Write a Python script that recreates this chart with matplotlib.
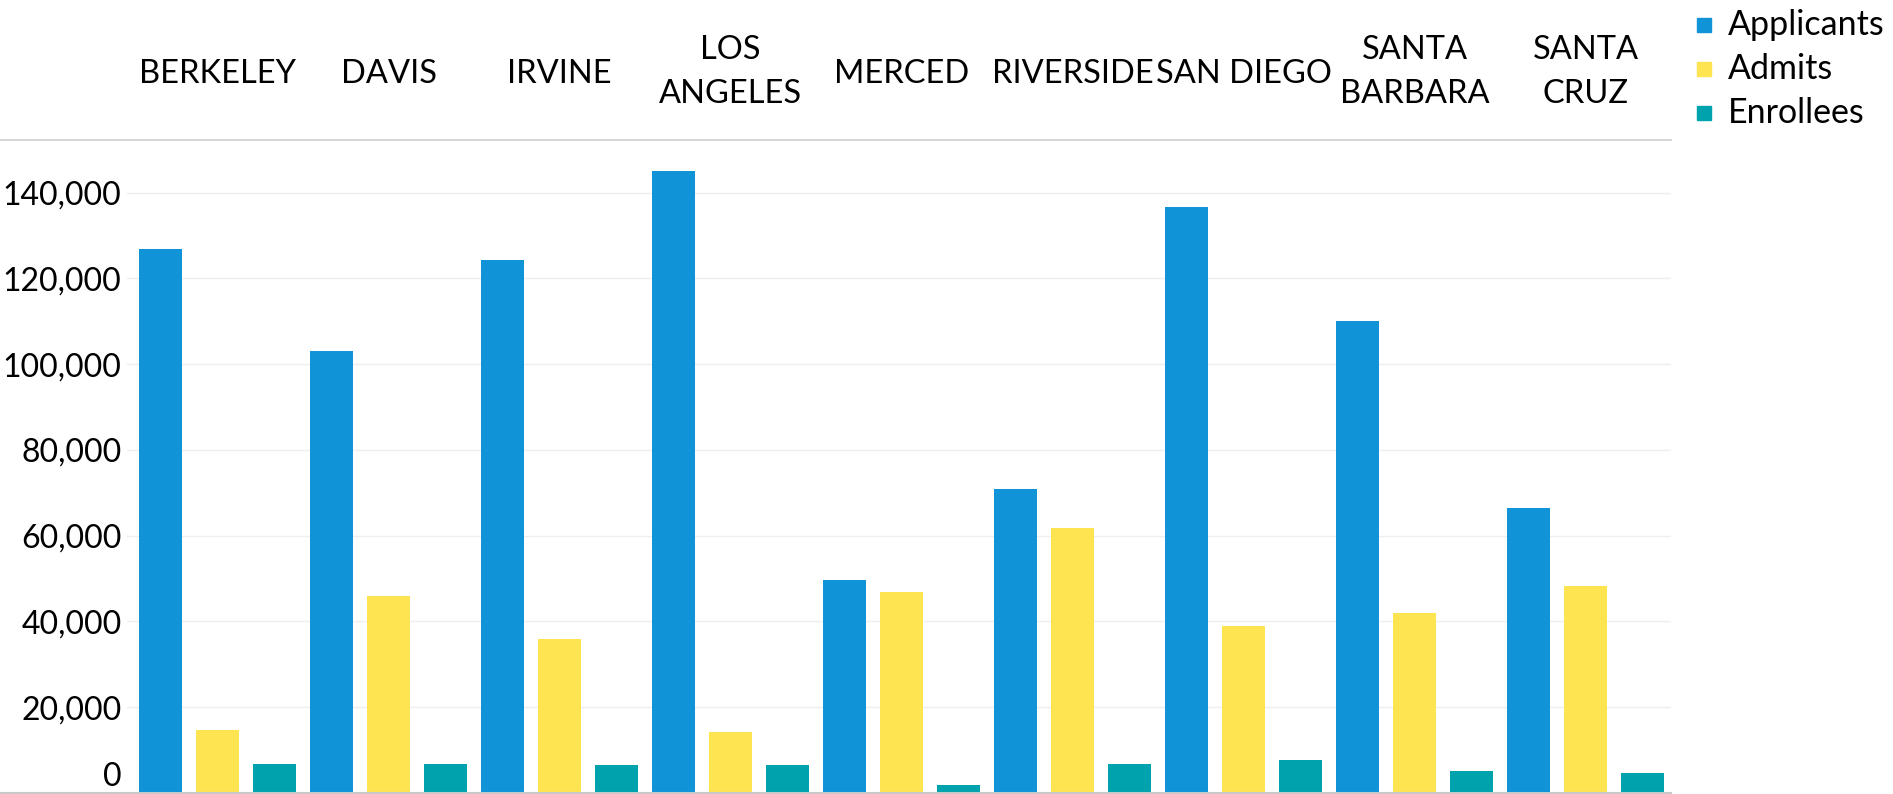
import numpy as np
import matplotlib.pyplot as plt
from matplotlib.lines import Line2D
from matplotlib.patches import Rectangle
from matplotlib.transforms import ScaledTranslation

campuses = ["BERKELEY", "DAVIS", "IRVINE", "LOS\nANGELES", "MERCED",
            "RIVERSIDE", "SAN DIEGO", "SANTA\nBARBARA", "SANTA\nCRUZ"]
applicants = [126900, 103100, 124300, 145100, 49600, 71000, 136700, 110100, 66500]
admits = [14700, 46000, 35900, 14200, 46800, 61700, 38900, 42000, 48200]
enrollees = [6800, 6800, 6500, 6500, 1900, 6800, 7700, 5100, 4700]
series = ["Applicants", "Admits", "Enrollees"]
colors = ["#1193d7", "#ffe451", "#00a3ad"]
yticks = np.arange(0, 140001, 20000)

plt.rcParams['font.family'] = ['Lato', 'DejaVu Sans']
FS = 23

W, H = 1893, 794
fig = plt.figure(figsize=(W / 100, H / 100), dpi=100)
ax = fig.add_axes([127 / W, 1 / H, 1544 / W, 653 / H])

n = len(campuses)
for j, vals in enumerate([applicants, admits, enrollees]):
    ax.bar(np.arange(n) * 3 + j, vals, width=0.754, color=colors[j], zorder=2)

ax.set_xlim(-0.59, 3 * n - 0.5)
ax.set_ylim(0, 152300)
ax.set_xticks([])
ax.set_yticks(yticks)
ax.set_yticklabels([f"{v:,}" for v in yticks], fontsize=FS)
ax.tick_params(axis='y', length=0, pad=4)
for v in yticks[1:]:
    ax.axhline(v, color='#efefef', lw=1, zorder=1)
for s in ax.spines.values():
    s.set_visible(False)

# zero label sits above the baseline
lab0 = ax.get_yticklabels()[0]
lab0.set_transform(lab0.get_transform() + ScaledTranslation(0, 19 / 100, fig.dpi_scale_trans))

# header row with campus names
for i, name in enumerate(campuses):
    xf = ax.transData.transform((3 * i + 1, 0))[0] / W
    yc = 72 if "\n" in name else 74
    fig.text(xf, 1 - yc / H, name, ha='center', va='center', fontsize=23.5,
             linespacing=1.55)

# separator lines
fig.add_artist(Line2D([0, 1671 / W], [1 - 140 / H] * 2, color='#d0d0d0', lw=1.2))
fig.add_artist(Line2D([0, 1671 / W], [1 - 793 / H] * 2, color='#c8c8c8', lw=1.5))

# legend
for k, (name, c) in enumerate(zip(series, colors)):
    yc = 25 + 44 * k
    fig.add_artist(Rectangle((1697 / W, 1 - (yc + 7) / H), 14 / W, 14 / H,
                             color=c, transform=fig.transFigure))
    fig.text(1728 / W, 1 - yc / H, name, ha='left', va='center', fontsize=24.5)

fig.savefig("out.png", dpi=100)
